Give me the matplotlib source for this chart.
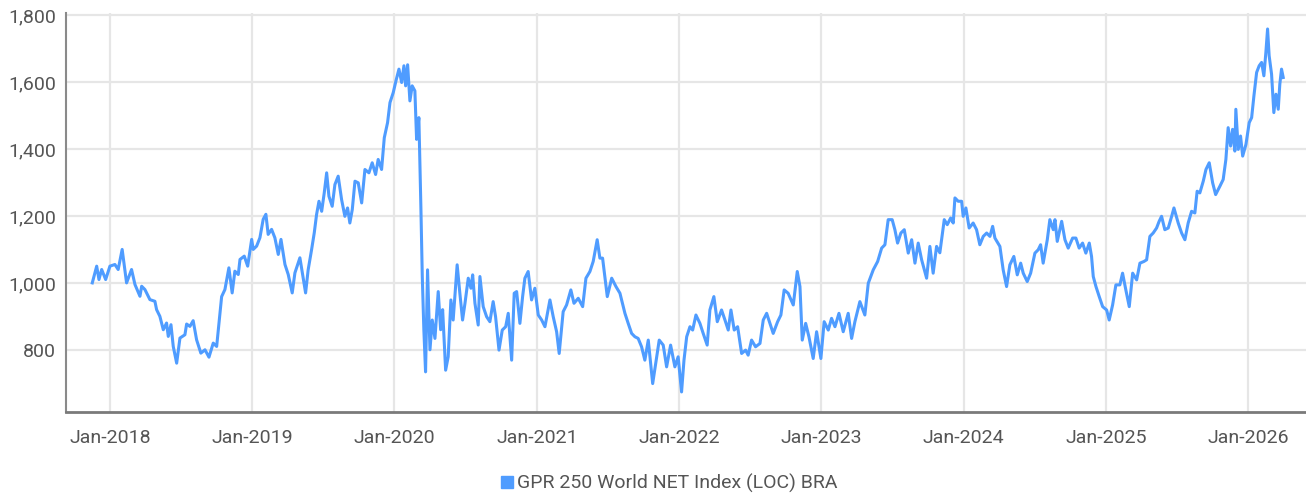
"""
Line chart of the GPR 250 World NET Index (LOC) BRA, Nov 2017 - Mar 2026.
"""
import numpy as np
import pandas as pd
import matplotlib
matplotlib.use('Agg')
import matplotlib.pyplot as plt
import matplotlib.dates as mdates
from matplotlib.ticker import FuncFormatter

plt.rcParams['font.family'] = ['Roboto', 'DejaVu Sans']

# Data (time as decimal years)
years = [
    2017.876, 2017.907, 2017.923, 2017.942, 2017.970, 2018.000, 2018.035, 2018.058, 2018.086, 2018.117,
    2018.152, 2018.176, 2018.211, 2018.223, 2018.246, 2018.281, 2018.316, 2018.328, 2018.351, 2018.375,
    2018.398, 2018.410, 2018.429, 2018.445, 2018.469, 2018.492, 2018.527, 2018.539, 2018.562, 2018.585,
    2018.609, 2018.639, 2018.668, 2018.696, 2018.726, 2018.750, 2018.773, 2018.785, 2018.808, 2018.836,
    2018.859, 2018.878, 2018.902, 2018.914, 2018.944, 2018.968, 2018.996, 2019.007, 2019.031, 2019.054,
    2019.077, 2019.096, 2019.112, 2019.136, 2019.159, 2019.183, 2019.202, 2019.230, 2019.253, 2019.281,
    2019.300, 2019.335, 2019.375, 2019.393, 2019.417, 2019.436, 2019.452, 2019.469, 2019.488, 2019.506,
    2019.523, 2019.539, 2019.562, 2019.581, 2019.604, 2019.628, 2019.651, 2019.670, 2019.686, 2019.703,
    2019.722, 2019.745, 2019.769, 2019.792, 2019.820, 2019.843, 2019.867, 2019.885, 2019.909, 2019.928,
    2019.951, 2019.968, 2019.991, 2020.010, 2020.031, 2020.050, 2020.066, 2020.078, 2020.092, 2020.108,
    2020.124, 2020.143, 2020.155, 2020.171, 2020.185, 2020.195, 2020.206, 2020.218, 2020.232, 2020.249,
    2020.265, 2020.284, 2020.307, 2020.324, 2020.338, 2020.359, 2020.377, 2020.396, 2020.412, 2020.429,
    2020.440, 2020.459, 2020.478, 2020.495, 2020.518, 2020.537, 2020.549, 2020.565, 2020.588, 2020.600,
    2020.623, 2020.647, 2020.670, 2020.693, 2020.710, 2020.734, 2020.757, 2020.781, 2020.799, 2020.823,
    2020.841, 2020.858, 2020.881, 2020.900, 2020.916, 2020.939, 2020.963, 2020.986, 2021.010, 2021.034,
    2021.057, 2021.092, 2021.115, 2021.139, 2021.157, 2021.185, 2021.209, 2021.239, 2021.261, 2021.291,
    2021.322, 2021.345, 2021.373, 2021.396, 2021.424, 2021.443, 2021.462, 2021.478, 2021.495, 2021.526,
    2021.556, 2021.584, 2021.619, 2021.642, 2021.666, 2021.689, 2021.712, 2021.736, 2021.759, 2021.783,
    2021.814, 2021.837, 2021.860, 2021.888, 2021.912, 2021.940, 2021.970, 2021.993, 2022.017, 2022.034,
    2022.053, 2022.076, 2022.095, 2022.118, 2022.146, 2022.169, 2022.197, 2022.216, 2022.244, 2022.268,
    2022.298, 2022.322, 2022.345, 2022.364, 2022.387, 2022.411, 2022.439, 2022.467, 2022.485, 2022.509,
    2022.537, 2022.568, 2022.591, 2022.615, 2022.638, 2022.661, 2022.692, 2022.715, 2022.738, 2022.766,
    2022.802, 2022.830, 2022.849, 2022.865, 2022.889, 2022.912, 2022.942, 2022.966, 2022.996, 2023.019,
    2023.048, 2023.071, 2023.095, 2023.123, 2023.153, 2023.188, 2023.212, 2023.235, 2023.270, 2023.305,
    2023.329, 2023.364, 2023.395, 2023.423, 2023.446, 2023.469, 2023.497, 2023.516, 2023.535, 2023.558,
    2023.582, 2023.610, 2023.634, 2023.657, 2023.680, 2023.704, 2023.739, 2023.762, 2023.785, 2023.809,
    2023.832, 2023.863, 2023.884, 2023.908, 2023.926, 2023.938, 2023.961, 2023.985, 2023.996, 2024.015,
    2024.038, 2024.066, 2024.090, 2024.113, 2024.137, 2024.161, 2024.184, 2024.203, 2024.219, 2024.254,
    2024.277, 2024.301, 2024.324, 2024.352, 2024.376, 2024.400, 2024.418, 2024.446, 2024.470, 2024.500,
    2024.523, 2024.540, 2024.558, 2024.587, 2024.605, 2024.629, 2024.641, 2024.657, 2024.688, 2024.711,
    2024.734, 2024.765, 2024.788, 2024.811, 2024.835, 2024.858, 2024.882, 2024.898, 2024.910, 2024.929,
    2024.952, 2024.976, 2025.004, 2025.022, 2025.046, 2025.069, 2025.097, 2025.116, 2025.139, 2025.163,
    2025.187, 2025.215, 2025.238, 2025.266, 2025.285, 2025.308, 2025.331, 2025.355, 2025.373, 2025.390,
    2025.413, 2025.437, 2025.461, 2025.477, 2025.507, 2025.531, 2025.554, 2025.577, 2025.601, 2025.624,
    2025.640, 2025.659, 2025.683, 2025.702, 2025.725, 2025.749, 2025.770, 2025.800, 2025.823, 2025.842,
    2025.858, 2025.875, 2025.889, 2025.905, 2025.912, 2025.929, 2025.945, 2025.960, 2025.983, 2026.006,
    2026.023, 2026.039, 2026.058, 2026.076, 2026.093, 2026.109, 2026.123, 2026.135, 2026.146, 2026.163,
    2026.179, 2026.194, 2026.210, 2026.221, 2026.233, 2026.245,
]
index_values = [
    1000, 1050, 1010, 1040, 1010, 1050, 1055, 1040, 1100, 1000,
    1040, 995, 960, 990, 980, 950, 945, 920, 900, 860,
    880, 840, 875, 810, 760, 835, 845, 877, 870, 887,
    830, 790, 800, 778, 820, 810, 909, 959, 980, 1045,
    970, 1035, 1025, 1070, 1080, 1050, 1130, 1100, 1110, 1135,
    1190, 1205, 1145, 1160, 1135, 1085, 1130, 1055, 1025, 970,
    1030, 1075, 970, 1039, 1099, 1150, 1204, 1244, 1214, 1269,
    1329, 1259, 1229, 1294, 1319, 1249, 1199, 1224, 1179, 1219,
    1304, 1299, 1239, 1339, 1329, 1359, 1324, 1369, 1339, 1434,
    1479, 1539, 1569, 1604, 1639, 1599, 1649, 1589, 1652, 1544,
    1589, 1574, 1429, 1494, 1229, 1019, 860, 734, 1039, 800,
    889, 834, 974, 860, 920, 739, 779, 949, 889, 989,
    1054, 969, 889, 939, 1014, 984, 1024, 939, 874, 1019,
    929, 899, 884, 944, 899, 799, 859, 869, 909, 769,
    969, 974, 879, 959, 1014, 1034, 949, 984, 904, 889,
    869, 949, 899, 854, 789, 914, 934, 979, 939, 954,
    929, 1014, 1034, 1064, 1129, 1074, 1074, 1019, 959, 1014,
    989, 969, 909, 879, 849, 839, 834, 809, 769, 829,
    699, 764, 829, 814, 749, 814, 749, 779, 674, 769,
    839, 869, 859, 904, 879, 849, 814, 919, 959, 884,
    919, 889, 859, 919, 859, 869, 789, 799, 784, 829,
    809, 819, 889, 909, 879, 849, 884, 904, 979, 969,
    934, 1034, 989, 829, 879, 839, 774, 854, 774, 884,
    859, 894, 869, 909, 854, 909, 834, 884, 944, 904,
    999, 1039, 1064, 1104, 1114, 1189, 1189, 1159, 1119, 1149,
    1159, 1089, 1129, 1059, 1119, 1069, 1014, 1109, 1029, 1109,
    1090, 1189, 1174, 1194, 1179, 1254, 1244, 1244, 1199, 1224,
    1164, 1179, 1159, 1114, 1139, 1149, 1139, 1169, 1134, 1109,
    1039, 989, 1054, 1079, 1024, 1059, 1029, 1004, 1029, 1089,
    1099, 1114, 1059, 1129, 1189, 1159, 1189, 1124, 1184, 1129,
    1104, 1134, 1134, 1104, 1119, 1089, 1119, 1079, 1019, 989,
    959, 929, 919, 889, 934, 994, 994, 1029, 979, 929,
    1029, 1009, 1059, 1064, 1069, 1139, 1149, 1164, 1184, 1199,
    1159, 1164, 1199, 1224, 1179, 1149, 1129, 1179, 1214, 1209,
    1274, 1269, 1304, 1339, 1359, 1299, 1264, 1289, 1309, 1369,
    1464, 1409, 1459, 1394, 1519, 1399, 1439, 1379, 1414, 1479,
    1494, 1559, 1629, 1649, 1659, 1619, 1689, 1759, 1679, 1624,
    1509, 1564, 1519, 1594, 1639, 1614,
]
y_ticks = [800, 1000, 1200, 1400, 1600, 1800]
x_tick_years = list(range(2018, 2027))
series_name = 'GPR 250 World NET Index (LOC) BRA'


def to_date(yr):
    return pd.Timestamp('2018-01-01') + pd.to_timedelta((yr - 2018) * 365.25, unit='D')


dates = [to_date(y) for y in years]

# Plot
line_color = '#4f9cff'
text_color = '#555555'
fig = plt.figure(figsize=(13.06, 4.97), dpi=100)
ax = fig.add_axes([0.0505, 0.171, 0.9495, 0.803])

ax.plot(dates, index_values, color=line_color, lw=2.2, solid_joinstyle='round')

ax.set_xlim(to_date(2017.691), to_date(2026.405))
ax.set_ylim(614, 1807)
ax.set_yticks(y_ticks)
ax.yaxis.set_major_formatter(FuncFormatter(lambda v, p: '{:,.0f}'.format(v)))
ax.set_xticks([pd.Timestamp('%d-01-01' % y) for y in x_tick_years])
ax.xaxis.set_major_formatter(mdates.DateFormatter('%b-%Y'))

ax.grid(True, color='#e6e6e6', lw=1.6)
ax.set_axisbelow(True)
for side in ['top', 'right']:
    ax.spines[side].set_visible(False)
ax.spines['left'].set_color('#8a8a8a')
ax.spines['left'].set_linewidth(1.5)
ax.spines['bottom'].set_color('#7a7a7a')
ax.spines['bottom'].set_linewidth(2)
ax.tick_params('both', length=0, labelsize=14, labelcolor=text_color)
ax.tick_params('x', pad=12)
ax.tick_params('y', pad=7)

# Legend
handle = plt.Line2D([], [], ls='none', marker='s', ms=8, color=line_color)
fig.legend([handle], [series_name], loc='center', bbox_to_anchor=(0.512, 0.028),
           frameon=False, fontsize=14, labelcolor=text_color,
           handletextpad=0.1, handlelength=0.8)

plt.savefig('out.png', dpi=100)
plt.close()
